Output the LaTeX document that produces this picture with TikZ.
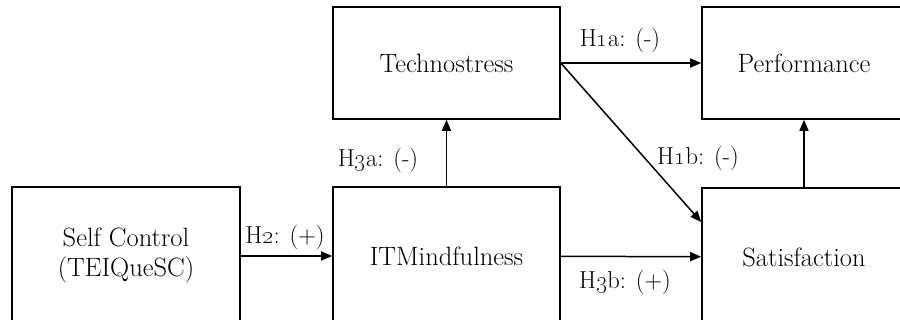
\documentclass[tikz,border=0pt]{standalone}
\usetikzlibrary{arrows.meta}
\begin{document}
\begin{tikzpicture}[x=1pt,y=-1pt,
  box/.style={draw=black,line width=1.6pt,inner sep=0pt,font=\fontsize{26.5}{30}\selectfont,align=center},
  lab/.style={inner sep=0pt,font=\fontsize{24.5}{28}\selectfont},
  conn/.style={line width=1.5pt,-{Triangle[length=11pt,width=9pt]}}]
\useasboundingbox (0,0) rectangle (900,320);
\clip (0,0) rectangle (900,320);
\node[box,minimum width=228pt,minimum height=138pt] (sc) at (126,256) {Self Control\\(TEIQueSC)};
\node[box,minimum width=227pt,minimum height=138pt] (itm) at (446.5,256) {ITMindfulness};
\node[box,minimum width=227pt,minimum height=112pt] (tech) at (446.5,63) {Technostress};
\node[box,minimum width=204pt,minimum height=112pt] (perf) at (804,63) {Performance};
\node[box,minimum width=204pt,minimum height=138pt] (sat) at (804,257) {Satisfaction};
\draw[conn] (sc) -- (itm);
\draw[conn] (itm) -- (tech);
\draw[conn] (tech.east) -- (perf.west);
\draw[conn] (tech.east) -- ([yshift=35pt]sat.west);
\draw[conn] (itm) -- (sat);
\draw[conn] (sat) -- (perf);
\node[lab] (l2) at (285,237) {H\oldstylenums{2}: (+)};
\node[lab] (l3a) at (378,160) {H\oldstylenums{3}a: (-)};
\node[lab] (l1a) at (620,40) {H\oldstylenums{1}a: (-)};
\node[lab] (l1b) at (698,158) {H\oldstylenums{1}b: (-)};
\node[lab] (l3b) at (625,282) {H\oldstylenums{3}b: (+)};
\end{tikzpicture}
\end{document}
